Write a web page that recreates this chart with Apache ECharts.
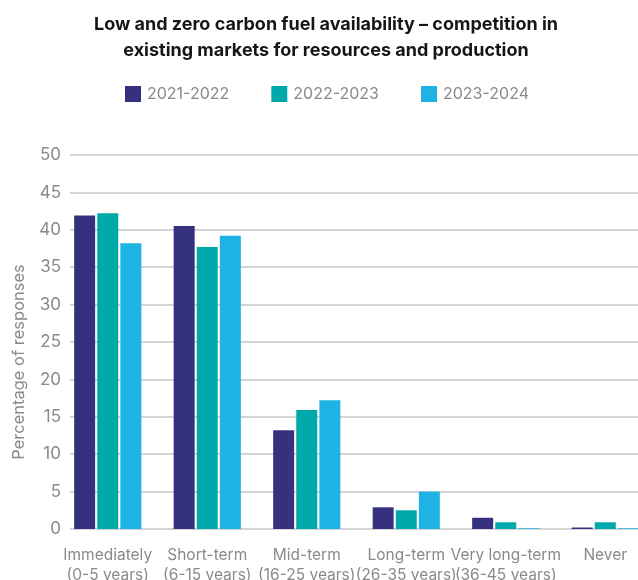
<!DOCTYPE html>
<html>
<head>
<meta charset="utf-8">
<script src="https://cdn.jsdelivr.net/npm/echarts@6/dist/echarts.min.js"></script>
<style>
  html, body { margin: 0; padding: 0; background: #ffffff; }
  #chart { width: 638px; height: 580px; }
</style>
</head>
<body>
<div id="chart"></div>
<script>
// Time horizons (category axis)
const categories = [
  'Immediately\n(0-5 years)',
  'Short-term\n(6-15 years)',
  'Mid-term\n(16-25 years)',
  'Long-term\n(26-35 years)',
  'Very long-term\n(36-45 years)',
  'Never'
];

// Survey periods
const seriesNames = ['2021-2022', '2022-2023', '2023-2024'];

// Percentage of responses per period
const values2021 = [41.9, 40.5, 13.2, 2.9, 1.5, 0.2];
const values2022 = [42.2, 37.7, 15.9, 2.5, 0.9, 0.9];
const values2023 = [38.2, 39.2, 17.2, 5.0, 0.1, 0.1];

// Value axis ticks
const yTicks = [0, 5, 10, 15, 20, 25, 30, 35, 40, 45, 50];

const colors = ['#36317f', '#00a9a9', '#1fb2e4'];
const font = 'Inter, "Noto Sans", sans-serif';
const grey = '#8a8a8a';

const chart = echarts.init(document.getElementById('chart'), null, { renderer: 'canvas' });

const yMin = yTicks[0];
const yMax = yTicks[yTicks.length - 1];
const yStep = yTicks[1] - yTicks[0];

chart.setOption({
  animation: false,
  backgroundColor: '#ffffff',
  color: colors,
  title: {
    text: 'Low and zero carbon fuel availability \u2013 competition in\nexisting markets for resources and production',
    left: 321,
    textAlign: 'center',
    top: 7,
    textStyle: {
      fontFamily: font,
      fontWeight: 'bold',
      fontSize: 18,
      lineHeight: 26,
      color: '#161616'
    }
  },
  legend: {
    data: seriesNames,
    left: 120,
    top: 81,
    itemWidth: 16,
    itemHeight: 16,
    itemGap: 42,
    icon: 'rect',
    textStyle: { fontFamily: font, fontSize: 16, color: grey, padding: [0, 0, 0, 1] }
  },
  grid: [
    // grid carrying the value gridlines and tick labels
    { left: 70, right: 0, top: 155, bottom: 51, outerBoundsMode: 'none', containLabel: false },
    // grid carrying the bars and category labels
    { left: 58, width: 597, top: 155, bottom: 51, outerBoundsMode: 'none', containLabel: false }
  ],
  xAxis: [
    {
      type: 'category', gridIndex: 0, data: categories, show: false
    },
    {
      type: 'category', gridIndex: 1, data: categories,
      axisLine: { show: false },
      axisTick: { show: false },
      axisLabel: {
        interval: 0,
        margin: 16,
        fontFamily: font,
        fontSize: 15.5,
        lineHeight: 20,
        color: grey
      }
    }
  ],
  yAxis: [
    {
      type: 'value', gridIndex: 0,
      min: yMin, max: yMax, interval: yStep,
      name: 'Percentage of responses',
      nameLocation: 'middle',
      nameGap: 42,
      nameTextStyle: { fontFamily: font, fontSize: 16.5, color: grey, padding: [0, 40, 0, 0] },
      axisLine: { show: false },
      axisTick: { show: false },
      axisLabel: { margin: 9, fontFamily: font, fontSize: 17, color: grey },
      splitLine: { lineStyle: { color: '#c6c6c6', width: 1.6 } }
    },
    {
      type: 'value', gridIndex: 1,
      min: yMin, max: yMax, interval: yStep,
      show: false,
      splitLine: { show: false }
    }
  ],
  series: [
    { name: seriesNames[0], type: 'bar', xAxisIndex: 1, yAxisIndex: 1, data: values2021, barWidth: 21, barGap: '10%' },
    { name: seriesNames[1], type: 'bar', xAxisIndex: 1, yAxisIndex: 1, data: values2022, barWidth: 21, barGap: '10%' },
    { name: seriesNames[2], type: 'bar', xAxisIndex: 1, yAxisIndex: 1, data: values2023, barWidth: 21, barGap: '10%' }
  ]
});
</script>
</body>
</html>
